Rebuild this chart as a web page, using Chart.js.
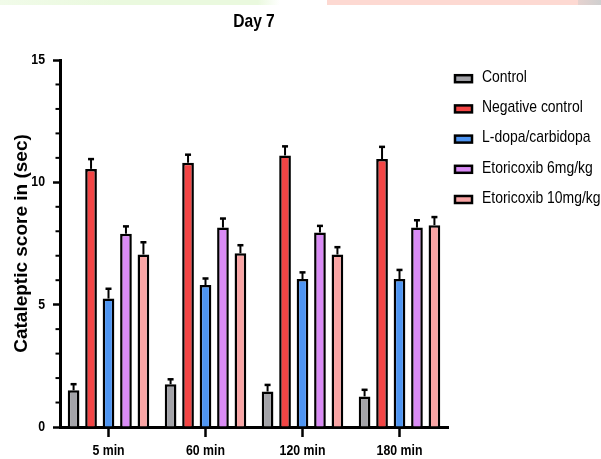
<!DOCTYPE html>
<html>
<head>
<meta charset="utf-8">
<title>Day 7</title>
<script src="https://cdn.jsdelivr.net/npm/chart.js@4/dist/chart.umd.min.js"></script>
<style>
  html, body { margin: 0; padding: 0; background: #ffffff; }
  #wrap { position: relative; width: 601px; height: 459px; overflow: hidden; }
  .band { position: absolute; top: 0; height: 5px; }
  canvas { position: absolute; left: 0; top: 0; }
</style>
</head>
<body>
<div id="wrap">
  <div class="band" style="left:0;width:280px;background:linear-gradient(90deg,#f1fbe9 0%,#eaf9de 40%,#eaf9de 92%,#ffffff 100%);"></div>
  <div class="band" style="left:327px;width:251px;background:#fdd9d2;"></div>
  <div class="band" style="left:578px;width:23px;background:linear-gradient(90deg,#e6d2cf,#cfcfcf);"></div>
  <canvas id="chart" width="601" height="459"></canvas>
</div>
<script>
// Time points after dosing
const categories = ['5 min', '60 min', '120 min', '180 min'];

// Group labels
const groupNames = ['Control', 'Negative control', 'L-dopa/carbidopa', 'Etoricoxib 6mg/kg', 'Etoricoxib 10mg/kg'];

// Mean cataleptic score (sec) per group
const control      = [1.5, 1.75, 1.45, 1.25];
const negControl   = [10.55, 10.8, 11.1, 10.95];
const ldopa        = [5.25, 5.8, 6.05, 6.05];
const etori6       = [7.9, 8.15, 7.95, 8.15];
const etori10      = [7.05, 7.1, 7.05, 8.25];

// SEM per group
const controlErr    = [0.25, 0.2, 0.27, 0.27];
const negControlErr = [0.4, 0.33, 0.37, 0.5];
const ldopaErr      = [0.4, 0.27, 0.27, 0.37];
const etori6Err     = [0.3, 0.37, 0.27, 0.3];
const etori10Err    = [0.5, 0.33, 0.3, 0.33];

// Y axis ticks
const yTicks = [0, 5, 10, 15];

// Narrow text: Liberation Sans squeezed horizontally to Arial Narrow proportions
const NARROW = "'Liberation Sans Narrow', 'Liberation Sans', Arial, sans-serif";
const WIDE = "'Liberation Sans', Arial, sans-serif";
const NARROW_SCALE = 0.82;

const canvas = document.getElementById('chart');
const ctx2d = canvas.getContext('2d');
const baseFill = ctx2d.fillText.bind(ctx2d);
const baseMeasure = ctx2d.measureText.bind(ctx2d);
ctx2d.fillText = function (text, x, y, maxWidth) {
  if (this.font.indexOf('Narrow') < 0) return baseFill(text, x, y, maxWidth);
  this.save();
  this.translate(x, y);
  this.scale(NARROW_SCALE, 1);
  baseFill(text, 0, 0);
  this.restore();
};
ctx2d.measureText = function (text) {
  const m = baseMeasure(text);
  if (this.font.indexOf('Narrow') < 0) return m;
  return {
    width: m.width * NARROW_SCALE,
    actualBoundingBoxLeft: m.actualBoundingBoxLeft * NARROW_SCALE,
    actualBoundingBoxRight: m.actualBoundingBoxRight * NARROW_SCALE,
    actualBoundingBoxAscent: m.actualBoundingBoxAscent,
    actualBoundingBoxDescent: m.actualBoundingBoxDescent,
    fontBoundingBoxAscent: m.fontBoundingBoxAscent,
    fontBoundingBoxDescent: m.fontBoundingBoxDescent
  };
};

const colors = ['#a3a3a8', '#f34545', '#4e95f2', '#d98bf5', '#f9a4a4'];
const values = [control, negControl, ldopa, etori6, etori10];
const errors = [controlErr, negControlErr, ldopaErr, etori6Err, etori10Err];

const datasets = groupNames.map((name, i) => ({
  label: name,
  data: values[i],
  errors: errors[i],
  backgroundColor: colors[i],
  borderColor: '#000000',
  borderWidth: 2.5,
  borderSkipped: 'start',
  categoryPercentage: 0.9,
  barPercentage: 0.67
}));

// Upper error bars with caps
const errorBars = {
  id: 'errorBars',
  afterDatasetsDraw(chart) {
    const ctx = chart.ctx;
    const yScale = chart.scales.y;
    ctx.save();
    ctx.strokeStyle = '#000000';
    chart.data.datasets.forEach((ds, i) => {
      const meta = chart.getDatasetMeta(i);
      meta.data.forEach((bar, j) => {
        const top = yScale.getPixelForValue(ds.data[j] + ds.errors[j]);
        ctx.lineWidth = 2;
        ctx.beginPath();
        ctx.moveTo(bar.x, bar.y);
        ctx.lineTo(bar.x, top);
        ctx.stroke();
        ctx.lineWidth = 2.5;
        ctx.beginPath();
        ctx.moveTo(bar.x - 3, top);
        ctx.lineTo(bar.x + 3, top);
        ctx.stroke();
      });
    });
    ctx.restore();
  }
};

// Short minor ticks between the labelled ones
const minorTicks = {
  id: 'minorTicks',
  afterDraw(chart) {
    const ctx = chart.ctx;
    const y = chart.scales.y;
    const left = chart.chartArea.left;
    ctx.save();
    ctx.strokeStyle = '#000000';
    ctx.lineWidth = 2;
    for (let v = y.min + 1; v < y.max; v++) {
      if (v % 5 === 0) continue;
      const py = y.getPixelForValue(v);
      ctx.beginPath();
      ctx.moveTo(left - 4.5, py);
      ctx.lineTo(left, py);
      ctx.stroke();
    }
    ctx.restore();
  }
};

// Legend column to the right of the plot
const sideLegend = {
  id: 'sideLegend',
  afterDraw(chart) {
    const ctx = chart.ctx;
    ctx.save();
    ctx.font = '17px ' + NARROW;
    ctx.textBaseline = 'alphabetic';
    ctx.textAlign = 'left';
    chart.data.datasets.forEach((ds, i) => {
      const cy = 78.7 + i * 30.2;
      ctx.fillStyle = ds.backgroundColor;
      ctx.fillRect(455, cy - 3.5, 17, 7);
      ctx.strokeStyle = '#000000';
      ctx.lineWidth = 2.5;
      ctx.strokeRect(455, cy - 3.5, 17, 7);
      ctx.fillStyle = '#000000';
      ctx.fillText(ds.label, 482, cy + 3.3);
    });
    ctx.restore();
  }
};

new Chart(canvas, {
  type: 'bar',
  data: { labels: categories, datasets },
  options: {
    responsive: false,
    devicePixelRatio: 1,
    animation: false,
    layout: { padding: { left: 4, right: 153, top: 0, bottom: 0 } },
    plugins: {
      legend: { display: false },
      tooltip: { enabled: false },
      title: {
        display: true,
        text: 'Day 7',
        fullSize: false,
        color: '#000000',
        font: { family: NARROW, size: 19, weight: 'bold' },
        padding: { top: 10, bottom: 27.2 }
      }
    },
    scales: {
      x: {
        offset: true,
        grid: {
          display: true,
          drawOnChartArea: false,
          drawTicks: true,
          tickLength: 10,
          tickColor: '#000000',
          tickWidth: 2.5,
          offset: false
        },
        border: { display: true, color: '#000000', width: 3 },
        ticks: {
          color: '#000000',
          font: { family: NARROW, size: 15, weight: 'bold' },
          padding: 5,
          maxRotation: 0
        },
        afterFit(scale) { scale.height = 32; }
      },
      y: {
        min: 0,
        max: 15,
        afterBuildTicks(scale) { scale.ticks = yTicks.map(v => ({ value: v })); },
        grid: {
          display: true,
          drawOnChartArea: false,
          drawTicks: true,
          tickLength: 7,
          tickColor: '#000000',
          tickWidth: 2.5
        },
        border: { display: true, color: '#000000', width: 3 },
        ticks: {
          color: '#000000',
          font: { family: NARROW, size: 15, weight: 'bold' },
          padding: 8
        },
        title: {
          display: true,
          text: 'Cataleptic score in (sec)',
          color: '#000000',
          font: { family: WIDE, size: 19, weight: 'bold' },
          padding: { top: 6.6, bottom: 0 }
        },
        afterFit(scale) { scale.width = 56; }
      }
    }
  },
  plugins: [errorBars, minorTicks, sideLegend]
});
</script>
</body>
</html>
